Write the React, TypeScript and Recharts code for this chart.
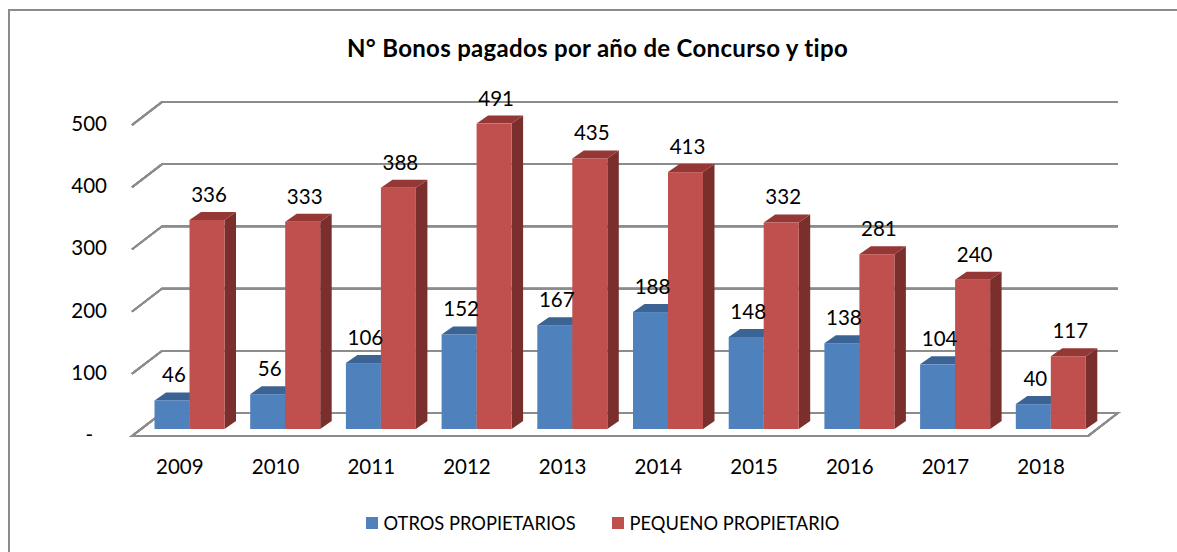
import {
  ComposedChart,
  Bar,
  XAxis,
  YAxis,
  CartesianGrid,
  Legend,
  LabelList,
} from "recharts";

const YEARS = ["2009", "2010", "2011", "2012", "2013", "2014", "2015", "2016", "2017", "2018"];
const OTROS = [46, 56, 106, 152, 167, 188, 148, 138, 104, 40];
const PEQUENO = [336, 333, 388, 491, 435, 413, 332, 281, 240, 117];
const Y_TICKS = [0, 100, 200, 300, 400, 500];

const data = YEARS.map((year, i) => ({ year, otros: OTROS[i], pequeno: PEQUENO[i] }));

const FONT = "Lato";
const GRID = "#8c8c8c";
const BACK_X = 30;
const BACK_Y = 23;
// the bars stand a little way into the floor
const SHIFT_X = 9.5;
const SHIFT_Y = 7;
const DEPTH_X = 11.5;
const DEPTH_Y = 8;

function Bar3D({ x, y, width, height, front, top, side }: any) {
  const l = x + SHIFT_X;
  const r = l + width;
  const t = y - SHIFT_Y;
  const b = t + height;
  return (
    <g>
      <polygon points={`${r},${t} ${r + DEPTH_X},${t - DEPTH_Y} ${r + DEPTH_X},${b - DEPTH_Y} ${r},${b}`} fill={side} />
      <polygon points={`${l},${t} ${l + DEPTH_X},${t - DEPTH_Y} ${r + DEPTH_X},${t - DEPTH_Y} ${r},${t}`} fill={top} />
      <rect x={l} y={t} width={width} height={height} fill={front} />
    </g>
  );
}

function BarLabel({ x, y, width, value }: any) {
  return (
    <text
      x={x + SHIFT_X + width / 2 + 2}
      y={y - SHIFT_Y - 18}
      textAnchor="middle"
      fontFamily={FONT}
      fontSize={20.5}
      fill="#000"
    >
      {value}
    </text>
  );
}

// gridlines run from the front edge back along the side wall, then across the back wall
function gridLines({ x, y, width, height }: any) {
  const bottom = y + height;
  return (
    <g>
      {Y_TICKS.map((t) => {
        const yy = bottom - (t / 500) * height;
        const path =
          t === 0
            ? `M${x},${yy} L${x + BACK_X},${yy - BACK_Y} L${x + width + BACK_X - 1},${yy - BACK_Y} L${x + width - 1},${yy} Z`
            : `M${x},${yy} L${x + BACK_X},${yy - BACK_Y} L${x + width + BACK_X - 1},${yy - BACK_Y}`;
        return <path key={t} d={path} fill="none" stroke={GRID} strokeWidth={1.8} />;
      })}
    </g>
  );
}

function YTick({ x, y, payload }: any) {
  const isZero = payload.value === 0;
  return (
    <text
      x={isZero ? x - 19 : x - 5}
      y={y + 6}
      textAnchor="end"
      fontFamily={FONT}
      fontSize={20.5}
      fill="#000"
    >
      {isZero ? "-" : payload.value}
    </text>
  );
}

function LegendBox({ payload }: any) {
  return (
    <div style={{ display: "flex", justifyContent: "center", fontFamily: FONT, fontSize: 18.3, color: "#000", paddingLeft: 28 }}>
      {payload.map((p: any, i: number) => (
        <span key={p.value} style={{ display: "flex", alignItems: "center", marginLeft: i ? 36 : 0 }}>
          <span style={{ width: 12, height: 12, background: p.color, marginRight: 6 }} />
          {p.value}
        </span>
      ))}
    </div>
  );
}

export default function App() {
  return (
    <div style={{ position: "absolute", left: 0, top: 0, width: 1177, height: 552, background: "#fff", overflow: "hidden" }}>
      <div
        style={{
          position: "absolute",
          left: 8,
          top: 9,
          width: 1200,
          height: 600,
          border: "2px solid #8c8c8c",
          boxSizing: "border-box",
        }}
      />
      <div
        style={{
          position: "absolute",
          left: 0,
          width: 1177,
          top: 33,
          textAlign: "center",
          fontFamily: FONT,
          fontWeight: 700,
          fontSize: 24,
          letterSpacing: 0.3,
          color: "#000",
          paddingLeft: 18,
          boxSizing: "border-box",
        }}
      >
        N° Bonos pagados por año de Concurso y tipo
      </div>
      <ComposedChart
        width={1177}
        height={552}
        data={data}
        barSize={35}
        barGap={0}
        margin={{ top: 125, right: 88, bottom: 46, left: 0 }}
        style={{ position: "absolute", left: 0, top: 0 }}
      >
        <XAxis
          dataKey="year"
          height={40}
          axisLine={false}
          tickLine={false}
          interval={0}
          tick={{ fontFamily: FONT, fontSize: 20.5, fill: "#000" }}
          tickMargin={17}
        />
        <YAxis
          width={132}
          domain={[0, 500]}
          ticks={Y_TICKS}
          axisLine={false}
          tickLine={false}
          tick={<YTick />}
          tickMargin={14}
        />
        <CartesianGrid horizontal={gridLines as any} vertical={false} />
        <Legend
          content={<LegendBox />}
          verticalAlign="bottom"
          height={30}
          wrapperStyle={{ bottom: 10, left: 0, width: 1177 }}
        />
        <Bar
          dataKey="otros"
          name="OTROS PROPIETARIOS"
          fill="#4F81BD"
          isAnimationActive={false}
          shape={<Bar3D front="#4F81BD" top="#3B6494" side="#2F5480" />}
        >
          <LabelList dataKey="otros" content={<BarLabel />} />
        </Bar>
        <Bar
          dataKey="pequeno"
          name="PEQUENO PROPIETARIO"
          fill="#C0504D"
          isAnimationActive={false}
          shape={<Bar3D front="#C0504D" top="#953735" side="#7A2F2D" />}
        >
          <LabelList dataKey="pequeno" content={<BarLabel />} />
        </Bar>
      </ComposedChart>
    </div>
  );
}
